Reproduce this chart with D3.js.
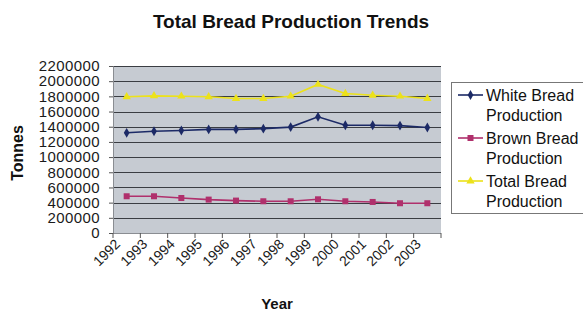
<!DOCTYPE html>
<html>
<head>
<meta charset="utf-8">
<script src="https://cdn.jsdelivr.net/npm/d3@7"></script>
<style>
  body { margin: 0; background: #fff; }
  svg { display: block; font-family: "Liberation Sans", Arial, sans-serif; }
</style>
</head>
<body>
<div id="chart"></div>
<script>
// data
const years = ["1992","1993","1994","1995","1996","1997","1998","1999","2000","2001","2002","2003"];
const whiteBread = [1320000,1340000,1350000,1365000,1365000,1375000,1395000,1530000,1420000,1420000,1415000,1390000];
const brownBread = [484000,484000,461000,440000,427000,418000,418000,444000,418000,409000,392000,392000];
const totalBread = [1795000,1806000,1802000,1795000,1772000,1772000,1802000,1957000,1838000,1815000,1802000,1772000];
const yTicks = [0,200000,400000,600000,800000,1000000,1200000,1400000,1600000,1800000,2000000,2200000];

const series = [
  { name: ["White Bread", "Production"], values: whiteBread, color: "#1c2a66", marker: "diamond" },
  { name: ["Brown Bread", "Production"], values: brownBread, color: "#b0306c", marker: "square" },
  { name: ["Total Bread", "Production"], values: totalBread, color: "#ece21a", marker: "triangle" }
];

const width = 583, height = 312;
const plot = { left: 113, right: 441, top: 66, bottom: 233 };

const svg = d3.select("#chart").append("svg")
  .attr("width", width)
  .attr("height", height);

const x = d3.scaleBand().domain(years).range([plot.left, plot.right]);
const y = d3.scaleLinear().domain([0, 2200000]).range([plot.bottom, plot.top]);

// plot background
svg.append("rect")
  .attr("x", plot.left).attr("y", plot.top)
  .attr("width", plot.right - plot.left).attr("height", plot.bottom - plot.top)
  .attr("fill", "#c6cbd2");

// gridlines
svg.append("g")
  .selectAll("line")
  .data(yTicks.slice(1))
  .enter().append("line")
  .attr("x1", plot.left).attr("x2", plot.right)
  .attr("y1", d => Math.round(y(d)) + 0.5).attr("y2", d => Math.round(y(d)) + 0.5)
  .attr("stroke", "#3a3d42").attr("stroke-width", 1);

// y axis
const yAxis = svg.append("g")
  .attr("transform", `translate(${plot.left},0)`)
  .call(d3.axisLeft(y).tickValues(yTicks).tickSize(4).tickPadding(9).tickFormat(d3.format("d")));
yAxis.select(".domain").attr("stroke", "#8a8d92");
yAxis.selectAll(".tick line").attr("stroke", "#555");
yAxis.selectAll("text").attr("font-size", 15).attr("fill", "#1a1a1a")
  .attr("letter-spacing", 0.4)
  .attr("font-family", "'Liberation Sans', Arial, sans-serif");

// x axis: ticks at category boundaries
const boundaries = years.map(d => x(d)).concat([x.range()[1]]);
svg.append("line")
  .attr("x1", plot.left).attr("x2", plot.right)
  .attr("y1", plot.bottom + 0.5).attr("y2", plot.bottom + 0.5)
  .attr("stroke", "#8a8d92");
svg.append("g").selectAll("line")
  .data(boundaries)
  .enter().append("line")
  .attr("x1", d => d).attr("x2", d => d)
  .attr("y1", plot.bottom).attr("y2", plot.bottom + 5)
  .attr("stroke", "#555");

svg.append("g").selectAll("text")
  .data(years)
  .enter().append("text")
  .attr("transform", d => `translate(${x(d) + 8},${plot.bottom + 12}) rotate(-45)`)
  .attr("text-anchor", "end")
  .attr("font-size", 14)
  .attr("fill", "#1a1a1a")
  .text(d => d);

// lines and markers
const line = d3.line()
  .x((d, i) => x(years[i]) + x.bandwidth() / 2)
  .y(d => y(d));

function drawMarker(g, type, color) {
  if (type === "diamond") {
    g.append("path").attr("d", d3.symbol(d3.symbolDiamond, 28)()).attr("fill", color);
  } else if (type === "square") {
    g.append("rect").attr("x", -3).attr("y", -3).attr("width", 6).attr("height", 6).attr("fill", color);
  } else {
    g.append("path").attr("d", d3.symbol(d3.symbolTriangle, 30)()).attr("fill", color);
  }
}

series.forEach(s => {
  svg.append("path")
    .datum(s.values)
    .attr("d", line)
    .attr("fill", "none")
    .attr("stroke", s.color)
    .attr("stroke-width", 1.6);
  svg.append("g").selectAll("g")
    .data(s.values)
    .enter().append("g")
    .attr("transform", (d, i) => `translate(${x(years[i]) + x.bandwidth() / 2},${y(d)})`)
    .each(function () { drawMarker(d3.select(this), s.marker, s.color); });
});

// title and axis titles
svg.append("text")
  .attr("x", 291).attr("y", 28)
  .attr("text-anchor", "middle")
  .attr("font-size", 19).attr("font-weight", "bold").attr("fill", "#111")
  .text("Total Bread Production Trends");

svg.append("text")
  .attr("transform", "translate(23,153) rotate(-90)")
  .attr("text-anchor", "middle")
  .attr("font-size", 16).attr("font-weight", "bold").attr("fill", "#111")
  .text("Tonnes");

svg.append("text")
  .attr("x", 277).attr("y", 309)
  .attr("text-anchor", "middle")
  .attr("font-size", 15).attr("font-weight", "bold").attr("fill", "#111")
  .text("Year");

// legend
const legend = svg.append("g");
legend.append("rect")
  .attr("x", 451.5).attr("y", 82.5)
  .attr("width", 140).attr("height", 131)
  .attr("fill", "#fff").attr("stroke", "#777");

series.forEach((s, i) => {
  const cy = 95 + i * 43;
  const g = legend.append("g");
  g.append("line")
    .attr("x1", 458).attr("x2", 483)
    .attr("y1", cy).attr("y2", cy)
    .attr("stroke", s.color).attr("stroke-width", 1.6);
  drawMarker(g.append("g").attr("transform", `translate(470.5,${cy})`), s.marker, s.color);
  s.name.forEach((t, j) => {
    g.append("text")
      .attr("x", 486).attr("y", cy + 6 + j * 20)
      .attr("font-size", 16).attr("fill", "#111")
      .text(t);
  });
});
</script>
</body>
</html>
